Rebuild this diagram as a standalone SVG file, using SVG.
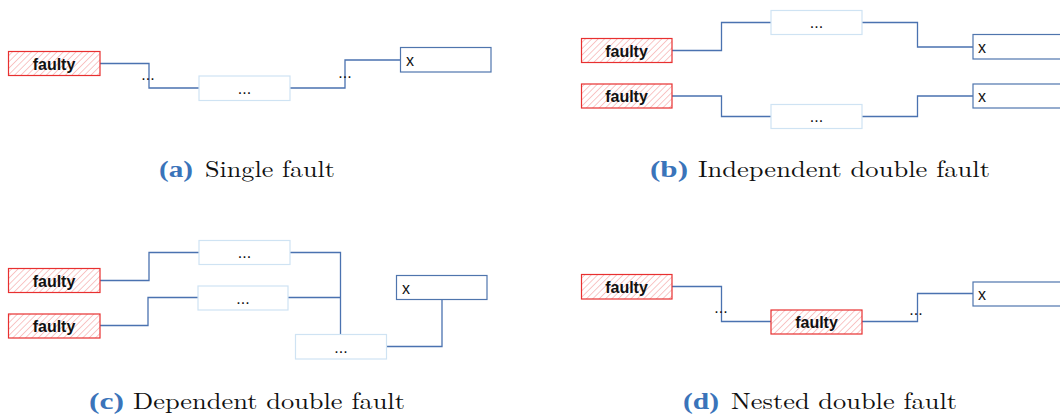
<svg xmlns="http://www.w3.org/2000/svg" width="1060" height="419" viewBox="0 0 1060 419">
  <defs>
    <pattern id="hatch" patternUnits="userSpaceOnUse" width="4.5" height="4.5" patternTransform="rotate(45)">
      <rect width="4.5" height="4.5" fill="#ffffff"/>
      <line x1="0" y1="0" x2="0" y2="4.5" stroke="#f49a9a" stroke-width="1.1"/>
    </pattern>
    <style>
      .faulty { fill: url(#hatch); stroke: #e83030; stroke-width: 1.2; }
      .mid { fill: #ffffff; stroke: #cfe3f3; stroke-width: 1.2; }
      .xbox { fill: #ffffff; stroke: #4f75ad; stroke-width: 1.2; }
      .wire { fill: none; stroke: #4a72b0; stroke-width: 1.3; }
      .ft { font-family: "Liberation Sans", Arial, sans-serif; font-weight: bold; font-size: 16px; fill: #111; text-anchor: middle; }
      .dots { font-family: "Liberation Sans", Arial, sans-serif; font-size: 16px; fill: #111; text-anchor: middle; }
      .xt { font-family: "Liberation Sans", Arial, sans-serif; font-size: 16px; fill: #111; }
      .cap { font-family: "Latin Modern Roman", "Liberation Serif", "Times New Roman", serif; font-size: 23px; fill: #111; }
      .lbl { font-family: "Liberation Serif", "Times New Roman", serif; font-size: 23px; font-weight: bold; fill: #3a74ba; }
    </style>
  </defs>

  <!-- connectors -->
  <g id="connectors">
    <!-- (a) single fault -->
    <polyline class="wire" points="100,63.5 149,63.5 149,88 199,88"/>
    <polyline class="wire" points="290,88 345,88 345,60 400,60"/>
    <!-- (b) independent double fault -->
    <polyline class="wire" points="672,50.5 721.5,50.5 721.5,22.5 771,22.5"/>
    <polyline class="wire" points="862,22.5 917.5,22.5 917.5,47 973,47"/>
    <polyline class="wire" points="672,96 721.5,96 721.5,116.5 771,116.5"/>
    <polyline class="wire" points="862,116.5 917.5,116.5 917.5,96 973,96"/>
    <!-- (c) dependent double fault -->
    <polyline class="wire" points="100,280.5 149,280.5 149,252.5 199,252.5"/>
    <polyline class="wire" points="290,252.5 340.5,252.5 340.5,334"/>
    <polyline class="wire" points="100,325.5 148,325.5 148,297.5 198,297.5"/>
    <polyline class="wire" points="288,297.5 340.5,297.5"/>
    <polyline class="wire" points="386,346.5 442,346.5 442,299.5"/>
    <!-- (d) nested double fault -->
    <polyline class="wire" points="672,286.5 721.5,286.5 721.5,321.5 771,321.5"/>
    <polyline class="wire" points="862,321.5 917.5,321.5 917.5,293.5 973,293.5"/>
  </g>

  <!-- (a) single fault -->
  <g id="a-faulty">
    <rect class="faulty" x="8.5" y="51.5" width="91.5" height="24"/>
    <text class="ft" x="54" y="69.5">faulty</text>
  </g>
  <g id="a-dots1"><text class="dots" x="148" y="80">...</text></g>
  <g id="a-mid">
    <rect class="mid" x="199" y="76" width="91" height="24.5"/>
    <text class="dots" x="244.5" y="93.5">...</text>
  </g>
  <g id="a-dots2"><text class="dots" x="345" y="78">...</text></g>
  <g id="a-x">
    <rect class="xbox" x="400.5" y="47.5" width="90.5" height="24.5"/>
    <text class="xt" x="406" y="66">x</text>
  </g>
  <g id="a-caption">
    <text class="lbl" x="159" y="177" textLength="34" lengthAdjust="spacingAndGlyphs">(a)</text>
    <text class="cap" x="205" y="177" textLength="130" lengthAdjust="spacingAndGlyphs">Single fault</text>
  </g>

  <!-- (b) independent double fault -->
  <g id="b-faulty1">
    <rect class="faulty" x="581.5" y="38.5" width="90.5" height="24"/>
    <text class="ft" x="626.5" y="56.5">faulty</text>
  </g>
  <g id="b-faulty2">
    <rect class="faulty" x="581.5" y="84" width="90.5" height="24"/>
    <text class="ft" x="626.5" y="102">faulty</text>
  </g>
  <g id="b-mid1">
    <rect class="mid" x="771" y="10.5" width="91" height="24"/>
    <text class="dots" x="816.5" y="28">...</text>
  </g>
  <g id="b-mid2">
    <rect class="mid" x="771" y="104.5" width="91" height="24"/>
    <text class="dots" x="816.5" y="122">...</text>
  </g>
  <g id="b-x1">
    <rect class="xbox" x="973" y="34.5" width="100" height="24.5"/>
    <text class="xt" x="978" y="53">x</text>
  </g>
  <g id="b-x2">
    <rect class="xbox" x="973" y="84" width="100" height="24"/>
    <text class="xt" x="978" y="102">x</text>
  </g>
  <g id="b-caption">
    <text class="lbl" x="650" y="177" textLength="38" lengthAdjust="spacingAndGlyphs">(b)</text>
    <text class="cap" x="698" y="177" textLength="292" lengthAdjust="spacingAndGlyphs">Independent double fault</text>
  </g>

  <!-- (c) dependent double fault -->
  <g id="c-faulty1">
    <rect class="faulty" x="8.5" y="268.5" width="91.5" height="24"/>
    <text class="ft" x="54" y="286.5">faulty</text>
  </g>
  <g id="c-faulty2">
    <rect class="faulty" x="8.5" y="314" width="91.5" height="24"/>
    <text class="ft" x="54" y="332">faulty</text>
  </g>
  <g id="c-mid1">
    <rect class="mid" x="199" y="240.5" width="91" height="24"/>
    <text class="dots" x="244.5" y="258">...</text>
  </g>
  <g id="c-mid2">
    <rect class="mid" x="198" y="286" width="90" height="24"/>
    <text class="dots" x="243" y="303.5">...</text>
  </g>
  <g id="c-mid3">
    <rect class="mid" x="295.5" y="334.5" width="91" height="24.5"/>
    <text class="dots" x="341" y="352.5">...</text>
  </g>
  <g id="c-x">
    <rect class="xbox" x="396.5" y="275.5" width="90.5" height="24"/>
    <text class="xt" x="402" y="294">x</text>
  </g>
  <g id="c-caption">
    <text class="lbl" x="89" y="409" textLength="35" lengthAdjust="spacingAndGlyphs">(c)</text>
    <text class="cap" x="133" y="409" textLength="272" lengthAdjust="spacingAndGlyphs">Dependent double fault</text>
  </g>

  <!-- (d) nested double fault -->
  <g id="d-faulty1">
    <rect class="faulty" x="581.5" y="274.5" width="90.5" height="24.5"/>
    <text class="ft" x="626.5" y="292.5">faulty</text>
  </g>
  <g id="d-dots1"><text class="dots" x="721" y="313">...</text></g>
  <g id="d-faulty2">
    <rect class="faulty" x="771" y="310" width="91" height="24"/>
    <text class="ft" x="816.5" y="328">faulty</text>
  </g>
  <g id="d-dots2"><text class="dots" x="916" y="315">...</text></g>
  <g id="d-x">
    <rect class="xbox" x="973" y="282" width="100" height="24"/>
    <text class="xt" x="978" y="300">x</text>
  </g>
  <g id="d-caption">
    <text class="lbl" x="683" y="409" textLength="36" lengthAdjust="spacingAndGlyphs">(d)</text>
    <text class="cap" x="731" y="409" textLength="226" lengthAdjust="spacingAndGlyphs">Nested double fault</text>
  </g>
</svg>
